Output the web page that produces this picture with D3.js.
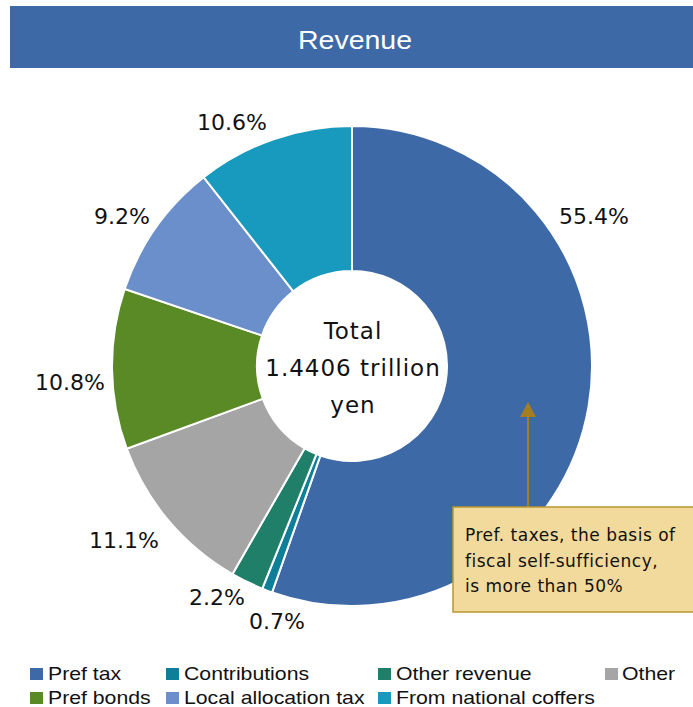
<!DOCTYPE html>
<html>
<head>
<meta charset="utf-8">
<script src="https://cdn.jsdelivr.net/npm/d3@7"></script>
<style>
  body { margin: 0; background: #fff; }
  svg { display: block; }
</style>
</head>
<body>
<div id="chart"></div>
<script>
// revenue breakdown (%), clockwise from 12 o'clock
var categories = ["Pref tax", "Contributions", "Other revenue", "Other",
                  "Pref bonds", "Local allocation tax", "From national coffers"];
var shares = [55.4, 0.7, 2.2, 11.1, 10.8, 9.2, 10.6];
var colors = ["#3E69A7", "#0F7F99", "#207F68", "#A5A5A5",
              "#5A8A26", "#6A8FCB", "#1899BE"];
// legend order (two rows)
var legendRows = [
  ["Pref tax", "Contributions", "Other revenue", "Other"],
  ["Pref bonds", "Local allocation tax", "From national coffers"]
];
var centerLines = ["Total", "1.4406 trillion", "yen"];
var noteLines = ["Pref. taxes, the basis of", "fiscal self-sufficiency,", "is more than 50%"];

var W = 693, H = 707;
var cx = 352, cy = 366;
var outerR = 240, innerR = 95;

var svg = d3.select("#chart").append("svg")
    .attr("width", W)
    .attr("height", H);

// title bar
svg.append("rect")
    .attr("x", 10).attr("y", 6)
    .attr("width", W - 10).attr("height", 62)
    .attr("fill", "#3D69A6");
svg.append("text")
    .attr("transform", "translate(355,49) scale(1.14,1)")
    .attr("text-anchor", "middle")
    .attr("fill", "#fff")
    .style("font-family", "'Liberation Sans', Arial, sans-serif")
    .style("font-size", "25px")
    .text("Revenue");

var color = d3.scaleOrdinal().domain(categories).range(colors);

var pie = d3.pie()
    .sort(null)
    .value(function(d) { return d.value; });

var arc = d3.arc()
    .innerRadius(innerR)
    .outerRadius(outerR);

var data = categories.map(function(c, i) { return {name: c, value: shares[i]}; });
var arcs = pie(data);

var g = svg.append("g")
    .attr("transform", "translate(" + cx + "," + cy + ")");

g.selectAll("path.slice")
    .data(arcs)
    .enter().append("path")
    .attr("class", "slice")
    .attr("d", arc)
    .attr("fill", function(d) { return color(d.data.name); })
    .attr("stroke", "#fff")
    .attr("stroke-width", 2);

// percentage labels, hand placed like the original (offsets from centre)
var labelOffsets = [[242, -150], [-75, 255], [-135, 231], [-228, 174],
                    [-282, 16], [-230, -150], [-120, -244]];

g.selectAll("text.pct")
    .data(arcs)
    .enter().append("text")
    .attr("class", "pct")
    .attr("x", function(d, i) { return labelOffsets[i][0]; })
    .attr("y", function(d, i) { return labelOffsets[i][1] + 8; })
    .attr("text-anchor", "middle")
    .style("font-family", "'DejaVu Sans', sans-serif")
    .style("font-size", "22px")
    .attr("fill", "#111")
    .text(function(d) { return d.data.value.toFixed(1) + "%"; });

// centre text
g.selectAll("text.center")
    .data(centerLines)
    .enter().append("text")
    .attr("class", "center")
    .attr("x", 1)
    .attr("y", function(d, i) { return -27 + i * 37; })
    .attr("text-anchor", "middle")
    .style("font-family", "'DejaVu Sans', sans-serif")
    .style("font-size", "23px")
    .style("letter-spacing", "1px")
    .attr("fill", "#111")
    .text(function(d) { return d; });

// callout: arrow + box
var arrowX = 528;
svg.append("line")
    .attr("x1", arrowX).attr("x2", arrowX)
    .attr("y1", 507).attr("y2", 414)
    .attr("stroke", "#A37F22")
    .attr("stroke-width", 2);
svg.append("path")
    .attr("d", "M" + arrowX + ",402 L" + (arrowX - 8) + ",417 L" + (arrowX + 8) + ",417 Z")
    .attr("fill", "#A37F22");

svg.append("rect")
    .attr("x", 453).attr("y", 507)
    .attr("width", 250).attr("height", 105)
    .attr("fill", "#F2DA9C")
    .attr("stroke", "#B8962F")
    .attr("stroke-width", 1.5);

svg.selectAll("text.note")
    .data(noteLines)
    .enter().append("text")
    .attr("class", "note")
    .attr("x", 465)
    .attr("y", function(d, i) { return 541 + i * 25.5; })
    .style("font-family", "'DejaVu Sans', sans-serif")
    .style("font-size", "17px")
    .style("letter-spacing", "0.5px")
    .attr("fill", "#111")
    .text(function(d) { return d; });

// legend
var colX = [30, 166, 378, 605];
var rowY = [674, 698];
legendRows.forEach(function(row, r) {
  var lg = svg.append("g");
  var items = lg.selectAll("g")
      .data(row)
      .enter().append("g")
      .attr("transform", function(d, i) { return "translate(" + colX[i] + "," + rowY[r] + ")"; });
  items.append("rect")
      .attr("x", 0).attr("y", -6)
      .attr("width", 13).attr("height", 12)
      .attr("fill", function(d) { return color(d); });
  items.append("text")
      .attr("transform", function(d, i) { return "translate(" + (i == 3 ? 17 : 18) + ",6) scale(1.18,1)"; })
      .style("font-family", "'Liberation Sans', Arial, sans-serif")
      .style("font-size", "18px")
      .attr("fill", "#111")
      .text(function(d) { return d; });
});
</script>
</body>
</html>
